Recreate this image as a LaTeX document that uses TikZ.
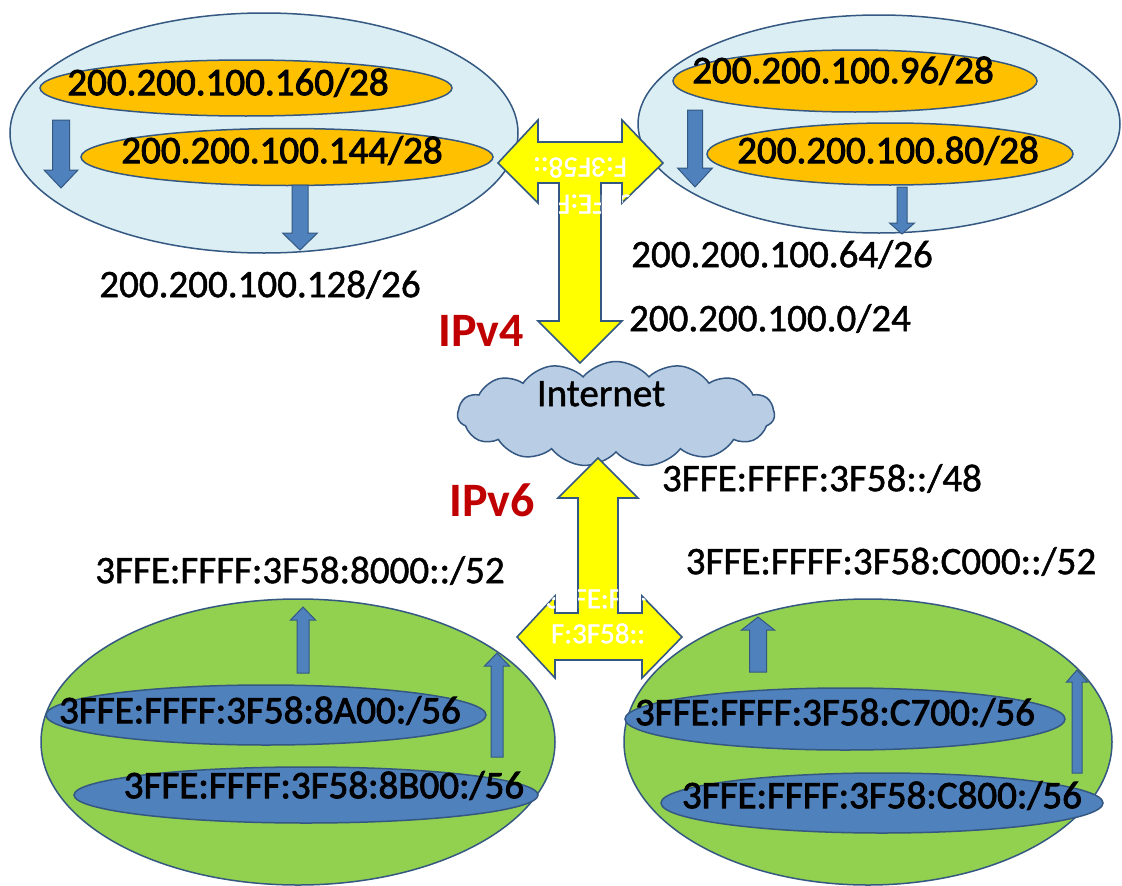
\documentclass[tikz,border=0pt]{standalone}
\usepackage{fontspec}
\setmainfont{Carlito}
\newfontfamily\lblfont[FakeBold=1.2]{Carlito}
\newfontfamily\inlblfont[FakeBold=2.2]{Carlito}
\usetikzlibrary{shapes.geometric,shapes.symbols}
\definecolor{edge}{RGB}{52,88,130}
\definecolor{skyfill}{RGB}{218,238,243}
\definecolor{orangefill}{RGB}{255,192,0}
\definecolor{grassfill}{RGB}{146,208,80}
\definecolor{bluefill}{RGB}{79,129,189}
\definecolor{cloudfill}{RGB}{185,205,229}
\definecolor{ipred}{RGB}{192,0,0}
\definecolor{yell}{RGB}{255,255,0}
\newcommand\blkarrow[6]{%
  \draw[barrow] (#1-#4,#2) -- (#1+#4,#2) -- (#1+#4,#3) -- (#1+#5,#3) -- (#1,#6) -- (#1-#5,#3) -- (#1-#4,#3) -- cycle;}
\def\toppath{(498,163) -- (538,120) -- (538,142) -- (622,142) -- (622,120) -- (663,163) -- (622,203) -- (622,183) -- (601,183) -- (601,321) -- (622,321) -- (580,363) -- (538,321) -- (559,321) -- (559,183) -- (538,183) -- (538,203) -- cycle}
\def\botpath{(598,458) -- (638,498) -- (618,498) -- (618,613) -- (642,613) -- (642,596) -- (682,637) -- (642,678) -- (642,660) -- (555,660) -- (555,678) -- (517,637) -- (555,596) -- (555,613) -- (578,613) -- (578,498) -- (558,498) -- cycle}
\tikzset{
  big/.style={ellipse, draw=edge, line width=1.5pt, inner sep=0pt},
  sky/.style={big, fill=skyfill},
  grass/.style={big, fill=grassfill},
  orng/.style={big, fill=orangefill},
  blu/.style={big, fill=bluefill},
  lbl/.style={inner sep=0pt, text height=0.64em, text depth=0pt, font=\lblfont\fontsize{39}{44}\selectfont},
  inlbl/.style={inner sep=0pt, text height=0.64em, text depth=0pt, font=\inlblfont\fontsize{39}{44}\selectfont},
  ipv/.style={inner sep=0pt, text height=0.64em, text depth=0pt, font=\fontsize{48}{52}\selectfont\bfseries, text=ipred},
  barrow/.style={fill=bluefill, draw=edge, line width=1pt},
  yarrow/.style={fill=yell, draw=edge, line width=1.6pt, line join=miter},
  wtxt/.style={inner sep=0pt, text=white, text height=0.64em, text depth=0pt, font=\lblfont\fontsize{29}{32}\selectfont},
}
\begin{document}
\begin{tikzpicture}[x=1pt,y=-1pt]
\useasboundingbox (0,0) rectangle (1122,886);
\fill[white] (0,0) rectangle (1122,886);

% ---- top left group
\node[sky, minimum width=508pt, minimum height=240pt] (tl) at (264,133) {};
\node[orng, minimum width=412pt, minimum height=56pt] (tlA) at (246,88) {};
\node[orng, minimum width=412pt, minimum height=57pt] (tlB) at (287,157) {};
\node[inlbl] (tlAt) at (228,92) {200.200.100.160/28};
\node[inlbl] (tlBt) at (282,160) {200.200.100.144/28};
\blkarrow{61}{120}{170}{8.5}{17}{188}
\blkarrow{300}{185}{233}{8}{17.5}{250}
\node[lbl] (tlsum) at (260,294) {200.200.100.128/26};

% ---- top right group
\node[sky, minimum width=482pt, minimum height=218pt] (tr) at (879,124) {};
\node[orng, minimum width=364pt, minimum height=62pt] (trA) at (855,81) {};
\node[orng, minimum width=366pt, minimum height=62pt] (trB) at (890,154) {};
\node[inlbl] (trAt) at (843,80) {200.200.100.96/28};
\node[inlbl] (trBt) at (888,160) {200.200.100.80/28};
\blkarrow{695}{110}{168}{7.5}{17.5}{187}
\blkarrow{902}{187}{223}{5}{12.5}{234}
\node[lbl] (trsum) at (782,264) {200.200.100.64/26};
\node[lbl] (v4sum) at (770,328) {200.200.100.0/24};

% ---- bottom left group
\node[grass, minimum width=514pt, minimum height=286pt] (bl) at (298,742) {};
\node[blu, minimum width=440pt, minimum height=60pt] (blA) at (266,715) {};
\node[blu, minimum width=464pt, minimum height=56pt] (blB) at (306,795) {};
\node[inlbl] (blAt) at (260,720) {3FFE:FFFF:3F58:8A00:/56};
\node[inlbl] (blBt) at (324,795) {3FFE:FFFF:3F58:8B00:/56};
\blkarrow{303}{673}{620}{6}{12.5}{607}
\blkarrow{497}{757}{666}{6}{12.5}{653}
\node[lbl] (blsum) at (300,580) {3FFE:FFFF:3F58:8000::/52};

% ---- bottom right group
\node[grass, minimum width=488pt, minimum height=286pt] (br) at (868,742) {};
\node[blu, minimum width=440pt, minimum height=62pt] (brA) at (845,719) {};
\node[blu, minimum width=442pt, minimum height=60pt] (brB) at (882,803) {};
\node[inlbl] (brAt) at (835,722) {3FFE:FFFF:3F58:C700:/56};
\node[inlbl] (brBt) at (882,805) {3FFE:FFFF:3F58:C800:/56};
\blkarrow{758}{672}{630}{8.5}{16.5}{617}
\blkarrow{1077}{773}{682}{5}{10.5}{670}
\node[lbl] (brsum) at (891,571) {3FFE:FFFF:3F58:C000::/52};

% ---- internet
\node[cloud, cloud puffs=15, cloud puff arc=100, aspect=3, draw=edge, fill=cloudfill, line width=1.5pt,
      minimum width=317pt, minimum height=105pt, inner sep=0pt] (net) at (616,414) {};
\node[lbl] (nett) at (601,403) {Internet};
\node[lbl] (v6sum) at (822,488) {3FFE:FFFF:3F58::/48};
\node[ipv] (ip4) at (481,343) {IPv4};
\node[ipv] (ip6) at (492,513) {IPv6};

% ---- yellow T arrows
\draw[yarrow] \toppath;
\begin{scope}
  \clip \toppath;
  \node[wtxt, rotate=180] (topw1) at (582,198) {3FFE:FFF};
  \node[wtxt, rotate=180] (topw2) at (580,161) {F:3F58::};
\end{scope}
\draw[yarrow] \botpath;
\begin{scope}
  \clip \botpath;
  \node[wtxt] (botw1) at (597,605) {3FFE:FFF};
  \node[wtxt] (botw2) at (598,640) {F:3F58::};
\end{scope}
\end{tikzpicture}
\end{document}
